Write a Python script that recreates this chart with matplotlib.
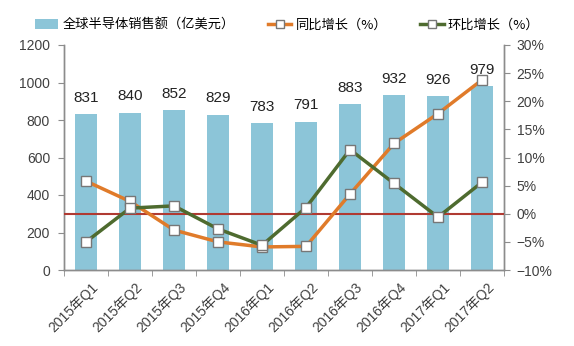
import matplotlib
matplotlib.use("Agg")
import matplotlib.pyplot as plt
from matplotlib.lines import Line2D
from matplotlib.patches import Patch
from matplotlib.ticker import FuncFormatter
import numpy as np

plt.rcParams['font.family'] = ['Liberation Sans', 'Noto Sans CJK SC', 'DejaVu Sans']

categories = ["2015年Q1", "2015年Q2", "2015年Q3", "2015年Q4", "2016年Q1",
              "2016年Q2", "2016年Q3", "2016年Q4", "2017年Q1", "2017年Q2"]
sales = [831, 840, 852, 829, 783, 791, 883, 932, 926, 979]
yoy = [5.8, 2.2, -2.9, -5.0, -5.9, -5.8, 3.5, 12.5, 17.8, 23.8]
qoq = [-5.0, 1.0, 1.4, -2.7, -5.6, 1.1, 11.4, 5.4, -0.6, 5.6]

bar_color = '#8CC5D8'
orange = '#E07B2A'
green = '#4E6B2F'
red = '#B03A32'
text_color = '#404040'
spine_color = '#8C8C8C'

fig = plt.figure(figsize=(5.74, 3.46), dpi=100)
ax = fig.add_axes([64/574, 1-270/346, 440/574, 225/346])
ax2 = ax.twinx()

x = np.arange(len(categories))
ax.bar(x, sales, width=0.52, color=bar_color, zorder=1)
for xi, v in zip(x, sales):
    ax.text(xi, v + 50, str(v), ha='center', va='bottom', fontsize=11, color='#222222')

ax.set_ylim(0, 1200)
ax.set_yticks(range(0, 1201, 200))
ax.set_xlim(-0.5, len(categories) - 0.5)
ax.set_xticks(x + 0.1)
ax.set_xticklabels(categories, rotation=45, ha='right', rotation_mode='anchor',
                   fontsize=10, color=text_color, family=['Liberation Sans', 'Noto Sans CJK SC'])
ax.set_xticks(np.arange(-0.5, len(categories) + 0.5, 1), minor=True)
ax.tick_params(axis='x', which='major', length=0, pad=7)
ax.tick_params(axis='x', which='minor', length=4, color=spine_color, direction='out')
ax.tick_params(axis='y', length=4, color=spine_color, labelsize=10, labelcolor=text_color, pad=6)

ax2.plot(x, yoy, color=orange, lw=2.5, marker='s', markersize=6.5, markerfacecolor='white',
         markeredgecolor='#777777', markeredgewidth=1, zorder=4)
ax2.plot(x, qoq, color=green, lw=2.5, marker='s', markersize=6.5, markerfacecolor='white',
         markeredgecolor='#777777', markeredgewidth=1, zorder=5)
ax2.axhline(0, color=red, lw=1.5, zorder=3)
ax2.set_ylim(-10, 30)
ax2.set_yticks(range(-10, 31, 5))
ax2.yaxis.set_major_formatter(FuncFormatter(lambda v, p: f"{int(v)}%".replace('-', '−')))
ax2.tick_params(axis='y', length=4, color=spine_color, labelsize=10, labelcolor=text_color, pad=5)

for a in (ax, ax2):
    a.spines['top'].set_visible(False)
    for s in ('left', 'right', 'bottom'):
        a.spines[s].set_color(spine_color)
        a.spines[s].set_linewidth(1)

handles = [
    Patch(facecolor=bar_color, edgecolor='none'),
    Line2D([], [], color=orange, lw=2.5, marker='s', markersize=6, markerfacecolor='white', markeredgecolor='#777777'),
    Line2D([], [], color=green, lw=2.5, marker='s', markersize=6, markerfacecolor='white', markeredgecolor='#777777'),
]
labels = ["全球半导体销售额（亿美元）", "同比增长（%）", "环比增长（%）"]
fig.legend(handles, labels, loc='center', bbox_to_anchor=(0.5, 1-25/346), ncol=3,
           frameon=False, handlelength=1.8, handleheight=0.7, columnspacing=2.5,
           handletextpad=0.3, prop={'family': ['Noto Sans CJK SC', 'DejaVu Sans'], 'size': 9.5})

fig.savefig('out.png', dpi=100, facecolor='white')
